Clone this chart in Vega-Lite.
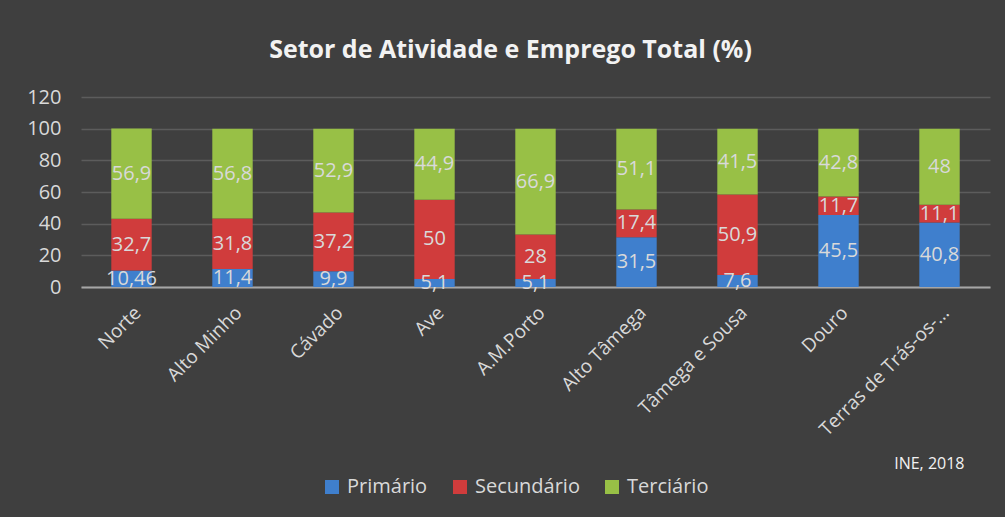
{
  "$schema": "https://vega.github.io/schema/vega-lite/v6.json",
  "width": 909,
  "height": 190,
  "padding": {"left": 26, "top": 38, "right": 20, "bottom": 25},
  "background": "#3f3f3f",
  "title": {
    "text": "Setor de Atividade e Emprego Total (%)",
    "font": "Open Sans",
    "fontSize": 25,
    "fontWeight": "bold",
    "color": "#f2f2f2",
    "offset": 24,
    "dx": -25,
    "anchor": "middle"
  },
  "config": {
    "locale": {"number": {"decimal": ",", "thousands": ".", "grouping": [3], "currency": ["", " €"]}},
    "view": {"stroke": null},
    "font": "Open Sans"
  },
  "data": {
    "values": [
      {"regiao": "Norte", "setor": "Primário", "valor": 10.46},
      {"regiao": "Norte", "setor": "Secundário", "valor": 32.7},
      {"regiao": "Norte", "setor": "Terciário", "valor": 56.9},
      {"regiao": "Alto Minho", "setor": "Primário", "valor": 11.4},
      {"regiao": "Alto Minho", "setor": "Secundário", "valor": 31.8},
      {"regiao": "Alto Minho", "setor": "Terciário", "valor": 56.8},
      {"regiao": "Cávado", "setor": "Primário", "valor": 9.9},
      {"regiao": "Cávado", "setor": "Secundário", "valor": 37.2},
      {"regiao": "Cávado", "setor": "Terciário", "valor": 52.9},
      {"regiao": "Ave", "setor": "Primário", "valor": 5.1},
      {"regiao": "Ave", "setor": "Secundário", "valor": 50},
      {"regiao": "Ave", "setor": "Terciário", "valor": 44.9},
      {"regiao": "A.M.Porto", "setor": "Primário", "valor": 5.1},
      {"regiao": "A.M.Porto", "setor": "Secundário", "valor": 28},
      {"regiao": "A.M.Porto", "setor": "Terciário", "valor": 66.9},
      {"regiao": "Alto Tâmega", "setor": "Primário", "valor": 31.5},
      {"regiao": "Alto Tâmega", "setor": "Secundário", "valor": 17.4},
      {"regiao": "Alto Tâmega", "setor": "Terciário", "valor": 51.1},
      {"regiao": "Tâmega e Sousa", "setor": "Primário", "valor": 7.6},
      {"regiao": "Tâmega e Sousa", "setor": "Secundário", "valor": 50.9},
      {"regiao": "Tâmega e Sousa", "setor": "Terciário", "valor": 41.5},
      {"regiao": "Douro", "setor": "Primário", "valor": 45.5},
      {"regiao": "Douro", "setor": "Secundário", "valor": 11.7},
      {"regiao": "Douro", "setor": "Terciário", "valor": 42.8},
      {"regiao": "Terras de Trás-os-…", "setor": "Primário", "valor": 40.8},
      {"regiao": "Terras de Trás-os-…", "setor": "Secundário", "valor": 11.1},
      {"regiao": "Terras de Trás-os-…", "setor": "Terciário", "valor": 48}
    ]
  },
  "encoding": {
    "x": {
      "field": "regiao",
      "type": "nominal",
      "sort": null,
      "scale": {"paddingInner": 0.6, "paddingOuter": 0.3},
      "axis": {
        "title": "INE, 2018",
        "labelAngle": -45,
        "labelFontSize": 19,
        "labelColor": "#d9d9d9",
        "ticks": false,
        "domainColor": "#a6a6a6",
        "domainWidth": 2,
        "labelPadding": 16,
        "grid": false,
        "titleFontSize": 16,
        "titleFontWeight": "normal",
        "titleColor": "#f2f2f2",
        "titleX": 883,
        "titleY": 176,
        "titleAlign": "right",
        "titleBaseline": "middle"
      }
    }
  },
  "layer": [
    {
      "mark": {"type": "bar"},
      "encoding": {
        "y": {
          "field": "valor",
          "type": "quantitative",
          "stack": "zero",
          "scale": {"domain": [0, 120]},
          "axis": {
            "values": [0, 20, 40, 60, 80, 100, 120],
            "labelOverlap": false,
            "title": null,
            "domain": false,
            "ticks": false,
            "labelPadding": 20,
            "labelFontSize": 20,
            "labelColor": "#d9d9d9",
            "gridColor": "#5c5c5c",
            "gridWidth": 1.5
          }
        },
        "color": {
          "field": "setor",
          "type": "nominal",
          "scale": {"domain": ["Primário", "Secundário", "Terciário"], "range": ["#3f7fcd", "#d03c3c", "#98c046"]},
          "legend": {
            "orient": "none",
            "legendX": 241,
            "legendY": 380,
            "direction": "horizontal",
            "title": null,
            "labelFontSize": 20,
            "labelColor": "#d9d9d9",
            "symbolType": "square",
            "symbolSize": 196,
            "symbolStrokeWidth": 0,
            "columnPadding": 22,
            "labelOffset": 5
          }
        },
        "order": {"field": "setor", "sort": "ascending"}
      }
    },
    {
      "mark": {"type": "text", "fontSize": 20, "color": "#d9d9d9"},
      "encoding": {
        "y": {
          "field": "valor",
          "type": "quantitative",
          "stack": "zero",
          "bandPosition": 0.5,
          "axis": {
            "values": [0, 20, 40, 60, 80, 100, 120],
            "labelOverlap": false,
            "title": null,
            "domain": false,
            "ticks": false,
            "labelPadding": 20,
            "labelFontSize": 20,
            "labelColor": "#d9d9d9",
            "gridColor": "#5c5c5c",
            "gridWidth": 1.5
          }
        },
        "detail": {"field": "setor", "type": "nominal"},
        "order": {"field": "setor", "sort": "ascending"},
        "text": {"field": "valor", "type": "quantitative", "format": "~g"}
      }
    }
  ]
}
